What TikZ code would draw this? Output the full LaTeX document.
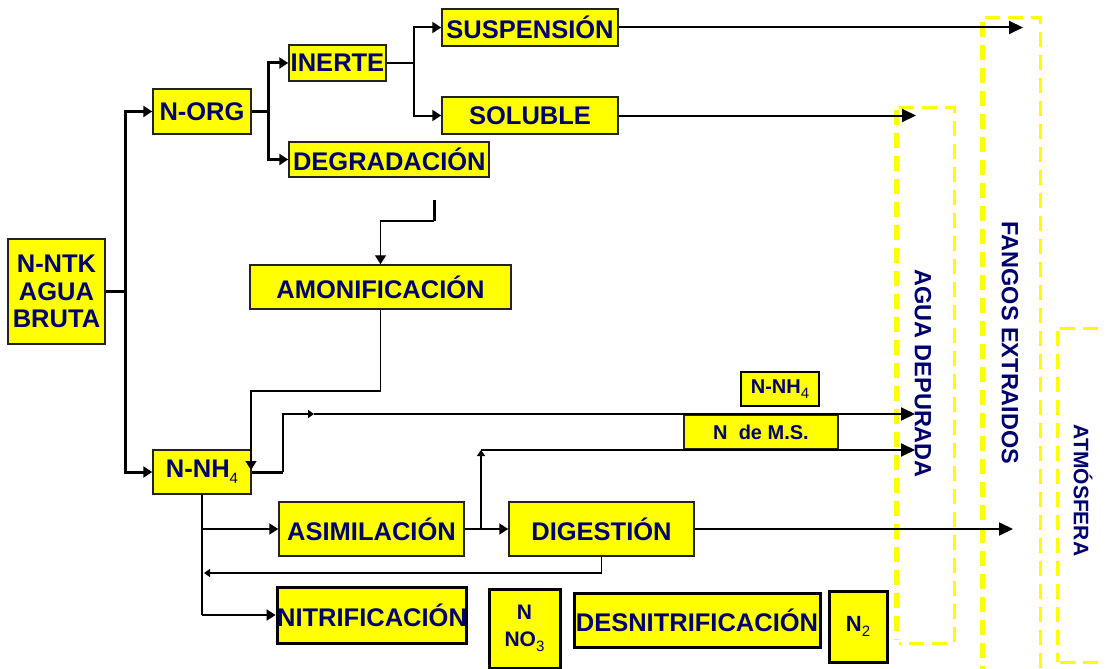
\documentclass[tikz,border=0pt]{standalone}
\usepackage{fontspec}
\setmainfont{Liberation Sans}
\usetikzlibrary{arrows.meta}
\definecolor{navy}{RGB}{0,0,110}
\definecolor{ylw}{RGB}{255,255,0}
\definecolor{edge}{RGB}{35,35,35}
\newcommand{\sbs}[1]{\raisebox{-0.25em}{\fontsize{15}{15}\selectfont\mdseries #1}}
\begin{document}
\begin{tikzpicture}[x=1pt,y=-1pt,
  box/.style={draw=edge, line width=1.5pt, fill=ylw, inner sep=0pt, text=navy,
    font=\fontsize{25.5}{27.5}\selectfont\bfseries, align=center},
  heavybox/.style={box, draw=black, line width=3pt},
  smallbox/.style={box, font=\fontsize{20}{22}\selectfont\bfseries},
  thk/.style={line width=3pt},
  med/.style={line width=2pt},
  thn/.style={line width=1.3pt},
  tip/.style={-{Triangle[length=9pt,width=11pt]}},
  bigtip/.style={-{Triangle[length=14pt,width=13pt]}},
  midtip/.style={-{Triangle[length=6pt,width=8pt]}},
  zone/.style={draw=ylw, dash pattern=on 15pt off 8pt, line width=3pt},
  zonethick/.style={zone, line width=5pt},
  vlabel/.style={text=navy, font=\fontsize{23.5}{27}\selectfont\bfseries, rotate=-90, inner sep=0pt}
]
\useasboundingbox (0,0) rectangle (1106,669);

% dashed zones
\draw[zonethick] (896,110) -- (896,640);
\draw[zone] (899,107) -- (954,107) -- (954,643) -- (899,643);
\draw[zonethick] (982,22) -- (982,669);
\draw[zone] (985,18) -- (1040,18) -- (1040,669);
\draw[zone] (1057,331) -- (1057,662);
\draw[zone] (1060,328) -- (1106,328);
\draw[zone] (1060,662) -- (1106,662);

\node[vlabel] (lagua) at (923,373.5) {AGUA DEPURADA};
\node[vlabel] (lfang) at (1010,343) {FANGOS EXTRAIDOS};
\node[vlabel, font=\fontsize{21}{24}\selectfont\bfseries] (latm) at (1083,490.5) {ATMÓSFERA};

% boxes
\node[box, minimum width=97pt, minimum height=105pt] (ntk) at (56.5,291.5) {N-NTK\\AGUA\\BRUTA};
\node[box, minimum width=98pt, minimum height=45pt] (norg) at (202,111.5) {N-ORG};
\node[box, minimum width=97pt, minimum height=36pt] (inerte) at (337.5,63) {INERTE};
\node[box, minimum height=35pt, inner xsep=4pt, text width=192pt, align=left] (degr) at (389,159.5) {DEGRADACIÓN};
\node[box, minimum width=176pt, minimum height=37pt] (susp) at (530,27.5) {SUSPENSIÓN};
\node[box, minimum width=176pt, minimum height=37pt] (solu) at (530,115.5) {SOLUBLE};
\node[box, minimum width=261pt, minimum height=44pt] (amon) at (380.5,287) {AMONIFICACIÓN};
\node[box, minimum width=98pt, minimum height=44pt] (nnh4) at (202,472) {N-NH\sbs{4}};
\node[smallbox, minimum width=154pt, minimum height=34pt] (nms) at (761,432) {N\ \ de M.S.};
\node[smallbox, draw=black, line width=2.5pt, minimum width=78pt, minimum height=34pt] (nlab) at (780,389) {N-NH\sbs{4}};
\node[box, minimum width=185pt, minimum height=54pt] (asim) at (371.5,529) {ASIMILACIÓN};
\node[box, minimum width=185pt, minimum height=54pt] (dige) at (601.5,529) {DIGESTIÓN};
\node[heavybox, minimum width=186pt, minimum height=56pt] (nitr) at (372,615) {NITRIFICACIÓN};
\node[heavybox, minimum width=71pt, minimum height=79pt, font=\fontsize{21}{27}\selectfont\bfseries] (nno3) at (524.5,628.5) {N\\NO\sbs{3}};
\node[heavybox, minimum width=246pt, minimum height=54pt] (desn) at (697,620) {DESNITRIFICACIÓN};
\node[heavybox, minimum width=58pt, minimum height=71pt, font=\fontsize{22}{27}\selectfont\bfseries] (ntwo) at (858,626.5) {N\sbs{2}};

% junction coordinates
\coordinate (j1) at (125,291.5);
\coordinate (j2) at (268,111.5);
\coordinate (j3) at (414,63);
\coordinate (fangA) at (1023,27.5);
\coordinate (aguaS) at (916,115.5);
\coordinate (d1) at (434,200);
\coordinate (d2) at (434,221);
\coordinate (am1) at (380.5,391);
\coordinate (am2) at (251,470);
\coordinate (e1) at (283,472);
\coordinate (m1) at (314,414);
\coordinate (aguaA) at (915,414);
\coordinate (b1) at (481,529);
\coordinate (b2) at (481,450);
\coordinate (aguaB) at (915,450);
\coordinate (c1) at (202,529);
\coordinate (c2) at (202,615);
\coordinate (c3) at (204,573);
\coordinate (fangD) at (1013,529);

% connectors
\draw[thk] (ntk.east) -- (j1);
\draw[thk, tip] (j1) |- (norg.west);
\draw[thk, tip] (j1) |- (nnh4.west);
\draw[thk] (norg.east) -- (j2);
\draw[thk, tip] (j2) |- (inerte.west);
\draw[thk, tip] (j2) |- (degr.west);
\draw[thn] (inerte.east) -- (j3);
\draw[med, tip] (j3) |- (susp.west);
\draw[med, tip] (j3) |- (solu.west);
\draw[med, bigtip] (susp.east) -- (fangA);
\draw[med, bigtip] (solu.east) -- (aguaS);
\draw[thk] (d1) -- (d2);
\draw[thn, tip] (d2) -| (amon.north);
\draw[thn, tip] (amon.south) -- (am1) -| (am2);
\draw[thk] (nnh4.east |- e1) -- (e1);
\draw[med, midtip] (e1) |- (m1);
\draw[med, bigtip] (m1) -- (aguaA);
\draw[thn, midtip] (b1) -- (b2);
\draw[med, bigtip] (b2) -- (aguaB);
\draw[med] (nnh4.south) -- (c2);
\draw[med, tip] (c1) -- (asim.west);
\draw[med, tip] (c2) -- (nitr.west);
\draw[med, tip] (asim.east) -- (dige.west);
\draw[thn, midtip] (dige.south) |- (c3);
\draw[med, bigtip] (dige.east) -- (fangD);
\end{tikzpicture}
\end{document}
